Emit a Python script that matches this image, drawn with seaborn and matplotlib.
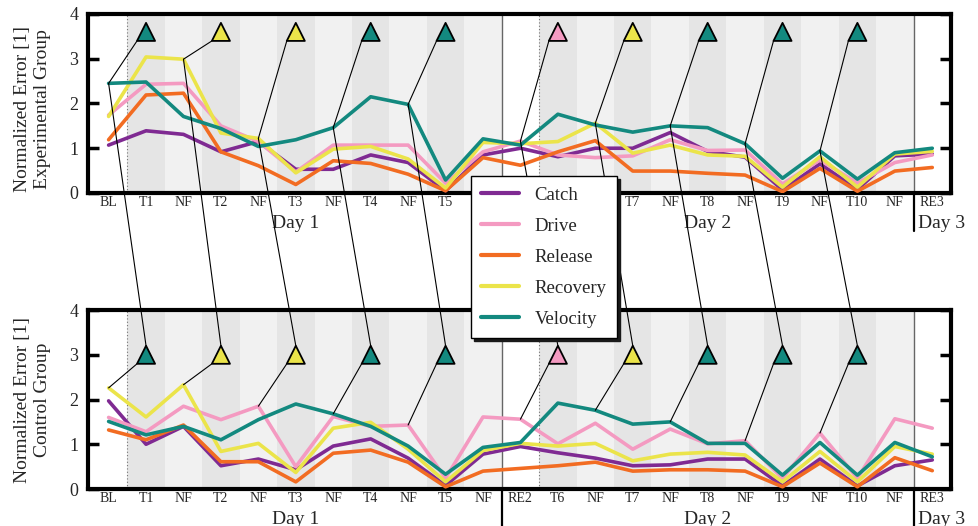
import numpy as np
import pandas as pd
import matplotlib
matplotlib.use("Agg")
import matplotlib.pyplot as plt
from matplotlib.lines import Line2D
from matplotlib.patches import ConnectionPatch
from matplotlib.transforms import ScaledTranslation, blended_transform_factory
import seaborn as sns

# ---------------------------------------------------------------- data
sessions = ["BL", "T1", "NF", "T2", "NF", "T3", "NF", "T4", "NF", "T5", "NF",
            "RE2", "T6", "NF", "T7", "NF", "T8", "NF", "T9", "NF", "T10", "NF", "RE3"]
days = ["Day 1", "Day 2", "Day 3"]
phases = ["Catch", "Drive", "Release", "Recovery", "Velocity"]
phase_colors = ["#7f2a92", "#f49ac1", "#f26c22", "#ebe44a", "#13897f"]

# feedback modality given in each training block (T1..T10)
feedback = ["Velocity", "Recovery", "Recovery", "Velocity", "Velocity",
            "Drive", "Recovery", "Velocity", "Velocity", "Velocity"]

exp_catch    = [1.07, 1.39, 1.31, 0.92, 1.15, 0.53, 0.53, 0.85, 0.68, 0.05, 0.85, 1.00,
                0.81, 1.00, 1.00, 1.35, 0.93, 0.80, 0.07, 0.65, 0.08, 0.83, 0.87]
exp_drive    = [1.74, 2.43, 2.45, 1.50, 1.15, 0.47, 1.07, 1.07, 1.07, 0.22, 0.92, 1.16,
                0.85, 0.79, 0.83, 1.19, 0.95, 0.96, 0.20, 0.74, 0.22, 0.68, 0.85]
exp_release  = [1.19, 2.19, 2.23, 0.92, 0.61, 0.19, 0.72, 0.66, 0.42, 0.05, 0.79, 0.62,
                0.92, 1.17, 0.49, 0.49, 0.44, 0.40, 0.03, 0.55, 0.04, 0.49, 0.57]
exp_recovery = [1.71, 3.04, 2.99, 1.34, 1.22, 0.45, 0.98, 1.04, 0.76, 0.11, 1.13, 1.10,
                1.15, 1.56, 0.89, 1.07, 0.85, 0.82, 0.13, 0.81, 0.13, 0.87, 0.93]
exp_velocity = [2.45, 2.48, 1.71, 1.44, 1.04, 1.19, 1.46, 2.15, 1.98, 0.29, 1.21, 1.07,
                1.76, 1.52, 1.36, 1.50, 1.46, 1.10, 0.33, 0.94, 0.31, 0.90, 1.00]

ctl_catch    = [1.97, 1.00, 1.40, 0.52, 0.67, 0.43, 0.96, 1.12, 0.69, 0.08, 0.78, 0.95,
                0.81, 0.69, 0.52, 0.54, 0.67, 0.67, 0.07, 0.67, 0.07, 0.52, 0.65]
ctl_drive    = [1.60, 1.28, 1.85, 1.55, 1.85, 0.50, 1.62, 1.40, 1.43, 0.24, 1.61, 1.56,
                1.01, 1.47, 0.89, 1.34, 1.01, 1.08, 0.24, 1.25, 0.24, 1.57, 1.36]
ctl_release  = [1.32, 1.10, 1.43, 0.61, 0.61, 0.16, 0.80, 0.87, 0.60, 0.05, 0.40, 0.46,
                0.52, 0.60, 0.40, 0.43, 0.43, 0.40, 0.05, 0.58, 0.05, 0.70, 0.41]
ctl_recovery = [2.26, 1.61, 2.33, 0.84, 1.02, 0.37, 1.36, 1.49, 0.89, 0.16, 0.86, 1.02,
                0.96, 1.02, 0.63, 0.78, 0.82, 0.76, 0.16, 0.84, 0.16, 0.95, 0.78]
ctl_velocity = [1.51, 1.21, 1.40, 1.10, 1.55, 1.90, 1.68, 1.40, 0.96, 0.33, 0.93, 1.04,
                1.92, 1.76, 1.45, 1.50, 1.02, 1.02, 0.31, 1.04, 0.31, 1.04, 0.72]

groups = {
    "Experimental Group": [exp_catch, exp_drive, exp_release, exp_recovery, exp_velocity],
    "Control Group": [ctl_catch, ctl_drive, ctl_release, ctl_recovery, ctl_velocity],
}

# ---------------------------------------------------------------- style
sns.set_style("white")
plt.rcParams["font.family"] = ["Liberation Serif", "DejaVu Serif"]
palette = dict(zip(phases, phase_colors))

fig = plt.figure(figsize=(9.79, 5.26), dpi=100)
ax_top = fig.add_axes([0.0899, 0.6331, 0.8815, 0.3403])
ax_bot = fig.add_axes([0.0899, 0.0703, 0.8815, 0.3403])
axes = {"Experimental Group": ax_top, "Control Group": ax_bot}
marker_y = {"Experimental Group": 3.6, "Control Group": 3.0}
label_y = {"Experimental Group": 0.47, "Control Group": 0.5}

x_idx = np.arange(len(sessions))
ms = 13.0                      # triangle marker size (points)
half = ms / 2 / 72.0           # half marker size in inches
trial_idx = [i for i, s in enumerate(sessions) if s.startswith("T")]

for name, series in groups.items():
    ax = axes[name]
    vals = np.array(series)

    # background bands: training blocks darker, no-feedback blocks lighter
    for i, s in enumerate(sessions):
        if s.startswith("T"):
            ax.axvspan(i - 0.5, i + 0.5, color="#e5e5e5", lw=0, zorder=0)
        elif s == "NF":
            ax.axvspan(i - 0.5, i + 0.5, color="#f1f1f1", lw=0, zorder=0)
        if s in ("BL", "RE2"):
            ax.axvline(i + 0.5, color="0.45", lw=0.8, ls=(0, (1, 2)), zorder=0.5)
        if s.startswith("RE"):
            ax.axvline(i - 0.5, color="0.4", lw=1.0, zorder=0.5)
            ax.axvline(i - 0.5, ymin=-0.21, ymax=0, color="k", lw=1.6, clip_on=False)

    df = pd.DataFrame({
        "session": np.tile(x_idx, len(phases)),
        "error": vals.ravel(),
        "phase": np.repeat(phases, len(sessions)),
    })
    sns.lineplot(data=df, x="session", y="error", hue="phase", hue_order=phases,
                 palette=palette, linewidth=2.6, errorbar=None, legend=False,
                 ax=ax, zorder=3)

    # feedback triangles
    tri = pd.DataFrame({"session": trial_idx,
                        "y": [marker_y[name]] * len(trial_idx),
                        "fb": feedback})
    sns.scatterplot(data=tri, x="session", y="y", hue="fb", palette=palette,
                    marker="^", s=ms ** 2, edgecolor="k", linewidth=1.3,
                    legend=False, ax=ax, zorder=6)

    # thin connectors: block before each training block -> its triangle
    corner = ax.transData + ScaledTranslation(-half, -half, fig.dpi_scale_trans)
    for k in trial_idx:
        p = k - 1
        y0 = vals[:, p].max()
        con = ConnectionPatch(xyA=(p, y0), coordsA=ax.transData,
                              xyB=(k, marker_y[name]), coordsB=corner,
                              color="k", lw=0.8, zorder=5)
        ax.add_artist(con)

    ax.set_xlim(-0.55, 22.5)
    ax.set_ylim(0, 4)
    ax.set_xticks(x_idx)
    ax.set_xticklabels(sessions, fontsize=10)
    ax.set_xticks([len(sessions) - 1], minor=True)
    ax.set_yticks([0, 1, 2, 3, 4])
    ax.tick_params(axis="x", which="major", length=0, pad=2.5)
    ax.tick_params(axis="x", which="minor", top=True, bottom=True, direction="in",
                   length=5, width=2.5, color="k")
    ax.tick_params(axis="y", direction="in", left=True, right=True, length=8,
                   width=2.5, labelsize=13, pad=7, color="k")
    ax.set_xlabel("")
    ax.set_ylabel("Normalized Error [1]\n" + name, fontsize=14, linespacing=1.2)
    ax.yaxis.set_label_coords(-0.043, label_y[name])
    for sp in ax.spines.values():
        sp.set_visible(True)
        sp.set_linewidth(3)
        sp.set_color("k")

    # day labels under the session labels
    tr = blended_transform_factory(ax.transData, ax.transAxes)
    starts = [i for i, s in enumerate(sessions) if s == "BL" or s.startswith("RE")]
    bounds = starts + [len(sessions)]
    for d, label in enumerate(days):
        a, b = bounds[d], bounds[d + 1] - 1
        if b > a:
            ax.text((a + b) / 2, -0.193, label, transform=tr, ha="center",
                    va="baseline", fontsize=14)
        else:
            ax.text(a - 0.38, -0.193, label, transform=tr, ha="left",
                    va="baseline", fontsize=14)

# long connectors: experimental block value -> control-group triangle
top_vals = np.array(groups["Experimental Group"])
apex = ax_bot.transData + ScaledTranslation(0, half, fig.dpi_scale_trans)
for k in trial_idx:
    p = k - 1
    con = ConnectionPatch(xyA=(p, top_vals[:, p].max()), coordsA=ax_top.transData,
                          xyB=(k, marker_y["Control Group"]), coordsB=apex,
                          color="k", lw=0.8, zorder=2)
    fig.add_artist(con)

handles = [Line2D([], [], color=c, lw=3) for c in phase_colors]
leg = fig.legend(handles, phases, loc="upper left", bbox_to_anchor=(0.481, 0.665),
                 frameon=True, fancybox=False, edgecolor="black", framealpha=1,
                 shadow={"color": "0.1", "alpha": 1.0}, fontsize=13.5,
                 handlelength=2.0, handletextpad=0.85, labelspacing=0.74,
                 borderpad=0.55, borderaxespad=0)
leg.get_frame().set_linewidth(1.0)
leg.set_zorder(10)

fig.savefig("out.png", dpi=100)
